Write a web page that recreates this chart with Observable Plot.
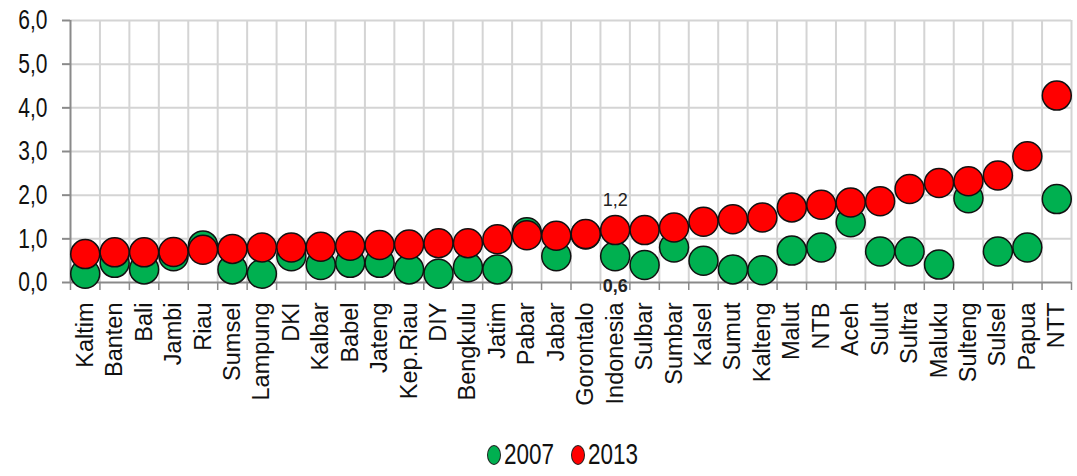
<!DOCTYPE html>
<html>
<head>
<meta charset="utf-8">
<script src="https://cdn.jsdelivr.net/npm/d3@7"></script>
<script src="https://cdn.jsdelivr.net/npm/@observablehq/plot@0.6"></script>
<style>
  html, body { margin: 0; padding: 0; background: #fff; }
  #wrap { position: relative; width: 1077px; height: 476px; overflow: hidden; }
  #chart svg { overflow: visible; display: block; }
  #legend { position: absolute; left: 487px; top: 442px; display: flex; align-items: center; font-family: "Liberation Sans", Arial, sans-serif; font-size: 22.5px; color: #111; }
  #legend .sw { display: inline-block; width: 12px; height: 18px; border-radius: 50%; border: 1.5px solid #222; margin-right: 3px; }
  #legend .item { display: flex; align-items: center; margin-right: 17px; }
  #legend .lbl { display: inline-block; transform: scaleY(1.33); }
</style>
</head>
<body>
<div id="wrap">
  <div id="chart"></div>
  <div id="legend"></div>
</div>
<script>
// ---- data ----
const categories = ["Kaltim","Banten","Bali","Jambi","Riau","Sumsel","Lampung","DKI","Kalbar","Babel","Jateng","Kep.Riau","DIY","Bengkulu","Jatim","Pabar","Jabar","Gorontalo","Indonesia","Sulbar","Sumbar","Kalsel","Sumut","Kalteng","Malut","NTB","Aceh","Sulut","Sultra","Maluku","Sulteng","Sulsel","Papua","NTT"];
const values2007 = [0.2,0.45,0.3,0.6,0.85,0.3,0.2,0.6,0.4,0.45,0.45,0.3,0.2,0.35,0.3,1.15,0.6,1.1,0.6,0.4,0.8,0.5,0.3,0.28,0.73,0.8,1.38,0.71,0.71,0.41,1.93,0.71,0.8,1.91];
const values2013 = [0.65,0.69,0.69,0.7,0.75,0.77,0.8,0.8,0.82,0.84,0.86,0.87,0.9,0.9,0.99,1.08,1.07,1.11,1.2,1.2,1.26,1.39,1.45,1.49,1.72,1.78,1.83,1.86,2.14,2.28,2.32,2.45,2.89,4.28];
const yTicks = [0,1,2,3,4,5,6];
const seriesNames = ["2007","2013"];
const seriesColors = ["#00b050","#ff0000"];
const annotated = "Indonesia";

// ---- build ----
const data = categories.map((name, i) => ({i, name, v2007: values2007[i], v2013: values2013[i]}));
const boundaries = d3.range(categories.length + 1).map(k => k - 0.5);
const fmt = d => d3.format(".1f")(d).replace(".", ",");
const ai = categories.indexOf(annotated);
const annTop = [{i: ai, v: values2013[ai]}];
const annBot = [{i: ai, v: values2007[ai]}];

const sans = '"Liberation Sans", Arial, sans-serif';
const gridColor = "#d4d4d4";
const axisColor = "#8a8a8a";

const chart = Plot.plot({
  width: 1077,
  height: 432,
  marginLeft: 70,
  marginRight: 6,
  marginTop: 20,
  marginBottom: 150,
  style: {fontFamily: sans, color: "#111", background: "#fff"},
  x: {type: "linear", domain: [-0.5, categories.length - 0.5]},
  y: {domain: [0, 6]},
  marks: [
    Plot.ruleY(yTicks.slice(1), {stroke: gridColor, strokeWidth: 2}),
    Plot.ruleX(boundaries.slice(1), {stroke: gridColor, strokeWidth: 2}),
    Plot.ruleX([boundaries[0]], {stroke: axisColor, strokeWidth: 2}),
    Plot.ruleY([0], {stroke: axisColor, strokeWidth: 2}),
    Plot.axisY({ticks: yTicks, tickFormat: fmt, tickSize: 8, tickPadding: 15, label: null,
      stroke: axisColor, strokeWidth: 2, fontSize: 21, fill: "#111"}),
    Plot.axisX({ticks: boundaries, tickFormat: () => "", tickSize: 8, label: null,
      stroke: axisColor, strokeWidth: 1.5}),
    Plot.axisX({ticks: d3.range(categories.length), tickFormat: i => categories[i], tickSize: 0,
      tickPadding: 20, tickRotate: -90, label: null, fontSize: 23.5, fill: "#111"}),
    Plot.dot(data, {x: "i", y: "v2007", r: 14.5, fill: seriesColors[0], stroke: "#111", strokeWidth: 1.5}),
    Plot.dot(data, {x: "i", y: "v2013", r: 14.5, fill: seriesColors[1], stroke: "#111", strokeWidth: 1.5}),
    Plot.text(annTop, {x: "i", y: "v", text: d => fmt(d.v), dy: -30, fontSize: 18, fill: "#222", ariaLabel: "ann"}),
    Plot.text(annBot, {x: "i", y: "v", text: d => fmt(d.v), dy: 30, fontSize: 18, fontWeight: "bold", fill: "#222", ariaLabel: "ann"})
  ]
});
document.getElementById("chart").appendChild(chart);

// tall, narrow digits like the reference
function stretch(el, sx, sy) {
  const t = el.getAttribute("transform");
  if (t) el.setAttribute("transform", t + ` scale(${sx},${sy})`);
  else el.setAttribute("transform", `scale(${sx},${sy})`);
}
chart.querySelectorAll('g[aria-label="y-axis tick label"] text').forEach(el => stretch(el, 1, 1.3));
chart.querySelectorAll('g[aria-label="ann"] text').forEach(el => stretch(el, 1, 1.35));

// ---- legend ----
const legend = document.getElementById("legend");
seriesNames.forEach((n, k) => {
  const item = document.createElement("span");
  item.className = "item";
  const sw = document.createElement("span");
  sw.className = "sw";
  sw.style.background = seriesColors[k];
  const t = document.createElement("span");
  t.className = "lbl";
  t.textContent = n;
  item.appendChild(sw);
  item.appendChild(t);
  legend.appendChild(item);
});
</script>
</body>
</html>
